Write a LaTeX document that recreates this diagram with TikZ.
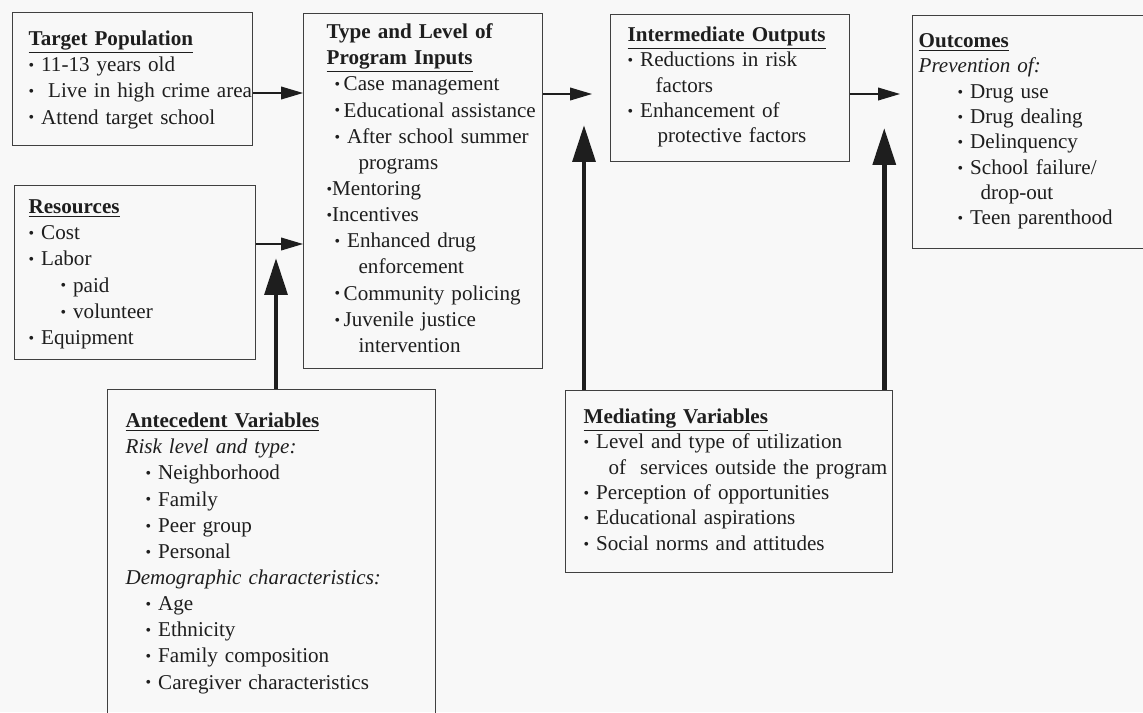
\documentclass[tikz,border=0pt]{standalone}
\usepackage{fontspec}
\setmainfont{Liberation Serif}
\usepackage{tikz}
\usetikzlibrary{arrows.meta, calc}
\definecolor{ink}{RGB}{30,30,30}
\definecolor{paper}{RGB}{248,248,248}
\newcommand{\dotb}{\raisebox{0.12ex}{\scalebox{0.75}{\textbullet}}}
\newcommand{\bul}{\dotb\ }

\begin{document}
\begin{tikzpicture}[
    block/.style={rectangle, draw=ink!85, line width=0.9pt, anchor=north west, inner sep=0pt, align=left, text=ink, font={\fontsize{15}{18.6}\selectfont}},
    pad/.style={execute at begin node={\leftskip=#1}},
    link/.style={draw=ink, line width=0.85pt, -{Triangle[length=0.55cm, width=0.32cm]}},
    push/.style={draw=ink, line width=3.4pt, -{Triangle[length=0.92cm, width=0.56cm]}}
]
\fill[paper] (0,0) rectangle (28.575,-17.8);
\useasboundingbox (0,0) rectangle (28.575,-17.8);
\clip (0,0) rectangle (28.575,-17.8);

% top row
\node[block, pad=0.4cm, text width=6cm, text height=0.825cm, text depth=2.5cm] (target) at (0.3,-0.3) {%
\underline{\textbf{Target Population}}\\
\bul 11-13 years old\\
\bul\ Live in high crime area\\
\bul Attend target school};

\node[block, pad=0.575cm, text width=5.975cm, text height=0.625cm, text depth=8.25cm] (inputs) at (7.575,-0.325) {%
\textbf{Type and Level of}\\
\underline{\textbf{Program Inputs}}\\
\hspace*{0.2cm}\dotb\,Case management\\
\hspace*{0.2cm}\dotb\,Educational assistance\\
\hspace*{0.2cm}\bul After school summer\\
\hspace*{0.8cm}programs\\
\dotb Mentoring\\
\dotb Incentives\\
\hspace*{0.2cm}\bul Enhanced drug\\
\hspace*{0.8cm}enforcement\\
\hspace*{0.2cm}\dotb\,Community policing\\
\hspace*{0.2cm}\dotb\,Juvenile justice\\
\hspace*{0.8cm}intervention};

\node[block, pad=0.425cm, font={\fontsize{15}{18}\selectfont}, text width=5.975cm, text height=0.675cm, text depth=3cm] (outputs) at (15.25,-0.35) {%
\underline{\textbf{Intermediate Outputs}}\\
\bul Reductions in risk\\
\hspace*{0.7cm}factors\\
\bul Enhancement of\\
\hspace*{0.75cm}protective factors};

\node[block, pad=0.15cm, font={\fontsize{15}{18}\selectfont}, text width=6.3cm, text height=0.8cm, text depth=5.025cm] (outcomes) at (22.8,-0.375) {%
\underline{\textbf{Outcomes}}\\
\textit{Prevention of:}\\
\hspace*{0.975cm}\bul Drug use\\
\hspace*{0.975cm}\bul Drug dealing\\
\hspace*{0.975cm}\bul Delinquency\\
\hspace*{0.975cm}\bul School failure/\\
\hspace*{1.55cm}drop-out\\
\hspace*{0.975cm}\bul Teen parenthood};

% left column
\node[block, pad=0.35cm, text width=6.025cm, text height=0.7cm, text depth=3.65cm] (resources) at (0.35,-4.625) {%
\underline{\textbf{Resources}}\\
\bul Cost\\
\bul Labor\\
\hspace*{0.8cm}\bul paid\\
\hspace*{0.8cm}\bul volunteer\\
\bul Equipment};

% bottom row
\node[block, pad=0.45cm, text width=8.2cm, text height=0.95cm, text depth=8cm] (antecedent) at (2.675,-9.725) {%
\underline{\textbf{Antecedent Variables}}\\
\textit{Risk level and type:}\\
\hspace*{0.5cm}\bul Neighborhood\\
\hspace*{0.5cm}\bul Family\\
\hspace*{0.5cm}\bul Peer group\\
\hspace*{0.5cm}\bul Personal\\
\textit{Demographic characteristics:}\\
\hspace*{0.5cm}\bul Age\\
\hspace*{0.5cm}\bul Ethnicity\\
\hspace*{0.5cm}\bul Family composition\\
\hspace*{0.5cm}\bul Caregiver characteristics};

\node[block, pad=0.45cm, font={\fontsize{15}{18}\selectfont}, text width=8.175cm, text height=0.825cm, text depth=3.725cm] (mediating) at (14.125,-9.75) {%
\underline{\textbf{Mediating Variables}}\\
\bul Level and type of utilization\\
\hspace*{0.625cm}of\ \ services outside the program\\
\bul Perception of opportunities\\
\bul Educational aspirations\\
\bul Social norms and attitudes};

% flow arrows
\draw[link] ([yshift=-2.025cm]target.north east) coordinate (a1) -- (a1 -| inputs.west);
\draw[link] ([yshift=-1.475cm]resources.north east) coordinate (a3) -- (a3 -| inputs.west);
\draw[link, shorten >=0.45cm] ([yshift=-2.025cm]inputs.north east) coordinate (a2) -- (a2 -| outputs.west);
\draw[link, shorten >=0.3cm] ([yshift=-2cm]outputs.north east) coordinate (a4) -- (a4 -| outcomes.west);

% influence arrows
\draw[push, shorten >=0.35cm] ([xshift=4.225cm]antecedent.north west) coordinate (b1) -- (b1 |- a3);
\draw[push, shorten >=0.775cm] ([xshift=0.475cm]mediating.north west) coordinate (b2) -- (b2 |- a2);
\draw[push, shorten >=0.85cm] ([xshift=-0.225cm]mediating.north east) coordinate (b3) -- (b3 |- a4);
\end{tikzpicture}
\end{document}
